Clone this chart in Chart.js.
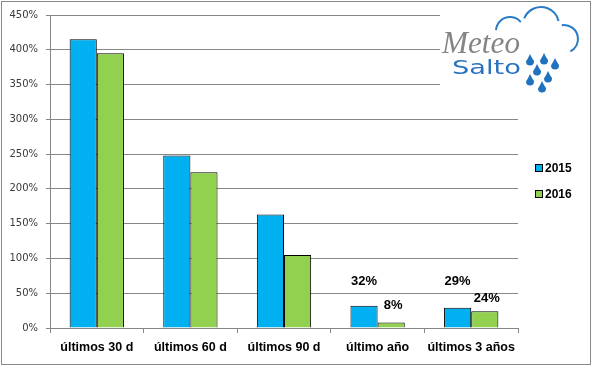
<!DOCTYPE html>
<html>
<head>
<meta charset="utf-8">
<script src="https://cdn.jsdelivr.net/npm/chart.js@4.4.1/dist/chart.umd.min.js"></script>
<style>
  html, body { margin: 0; padding: 0; background: #fff; }
  canvas { display: block; }
</style>
</head>
<body>
<canvas id="rainChart" width="596" height="366"></canvas>
<script>
// categories and values (percent)
const periods = ['últimos 30 d', 'últimos 60 d', 'últimos 90 d', 'último año', 'últimos 3 años'];
const values2015 = [415, 248, 163, 32, 29];
const values2016 = [395, 224, 105, 8, 24];
const yTicks = [0, 50, 100, 150, 200, 250, 300, 350, 400, 450];

const gridGray = '#878787';

// white background + outer frame
const frame = {
    id: 'frame',
    beforeDraw(chart) {
        const ctx = chart.ctx;
        ctx.save();
        ctx.fillStyle = '#fff';
        ctx.fillRect(0, 0, chart.width, chart.height);
        ctx.restore();
    },
    afterDraw(chart) {
        const ctx = chart.ctx;
        ctx.save();
        ctx.strokeStyle = '#8a8a8a';
        ctx.lineWidth = 1;
        ctx.strokeRect(1.5, 1.5, 589, 363);
        ctx.restore();
    }
};

// value labels over the last two groups
const valueLabels = {
    id: 'valueLabels',
    afterDatasetsDraw(chart, args, opts) {
        const ctx = chart.ctx;
        ctx.save();
        ctx.font = 'bold 13px "Liberation Sans", Arial, sans-serif';
        ctx.fillStyle = '#000';
        ctx.textAlign = 'center';
        ctx.textBaseline = 'middle';
        chart.data.datasets.forEach((ds, di) => {
            const meta = chart.getDatasetMeta(di);
            opts.indexes.forEach((idx, k) => {
                const bar = meta.data[idx];
                ctx.fillText(ds.data[idx] + '%', bar.x + (di === 1 ? 2 : 0), bar.y - opts.lift[di][k]);
            });
        });
        ctx.restore();
    }
};

// legend on the right
const sideLegend = {
    id: 'sideLegend',
    afterDraw(chart) {
        const ctx = chart.ctx;
        ctx.save();
        ctx.font = 'bold 12px "Liberation Sans", Arial, sans-serif';
        ctx.textBaseline = 'middle';
        chart.data.datasets.forEach((ds, i) => {
            const y = 168 + i * 26;
            ctx.fillStyle = ds.backgroundColor;
            ctx.fillRect(535.5, y - 3.5, 7, 7);
            ctx.strokeStyle = '#000';
            ctx.lineWidth = 1;
            ctx.strokeRect(535.5, y - 3.5, 7, 7);
            ctx.fillStyle = '#000';
            ctx.fillText(ds.label, 545, y + 1);
        });
        ctx.restore();
    }
};

// Meteo Salto logo, top right
const logo = {
    id: 'logo',
    afterDraw(chart) {
        const ctx = chart.ctx;
        ctx.save();
        ctx.fillStyle = '#fff';
        ctx.fillRect(440, 2, 149, 96);

        // cloud outline
        ctx.strokeStyle = '#2a7cc7';
        ctx.lineWidth = 2;
        ctx.beginPath();
        ctx.arc(510, 31, 14, Math.PI * 1.02, Math.PI * 1.78);
        ctx.stroke();
        ctx.beginPath();
        ctx.arc(541, 25, 18, Math.PI * 1.12, Math.PI * 1.93);
        ctx.stroke();
        ctx.beginPath();
        ctx.arc(564, 39, 14, Math.PI * 1.45, Math.PI * 2.35);
        ctx.stroke();

        // Meteo
        ctx.fillStyle = '#858585';
        ctx.font = 'italic 31px "Liberation Serif", "DejaVu Serif", serif';
        ctx.textBaseline = 'alphabetic';
        ctx.textAlign = 'left';
        let w = ctx.measureText('Meteo').width;
        ctx.translate(442, 53);
        ctx.scale(78 / w, 1);
        ctx.fillText('Meteo', 0, 0);
        ctx.setTransform(1, 0, 0, 1, 0, 0);

        // Salto
        ctx.fillStyle = '#2a72c0';
        ctx.font = '19px "DejaVu Sans", sans-serif';
        w = ctx.measureText('Salto').width;
        ctx.translate(452, 74);
        ctx.scale(69 / w, 1);
        ctx.fillText('Salto', 0, 0);
        ctx.setTransform(1, 0, 0, 1, 0, 0);

        // raindrops
        const drops = [[530, 60], [544, 59], [555, 64], [537, 70], [548, 77], [530, 80], [542, 87]];
        ctx.fillStyle = '#1f72c0';
        drops.forEach(([x, y]) => {
            ctx.beginPath();
            ctx.moveTo(x, y - 6);
            ctx.quadraticCurveTo(x + 1.5, y - 2.5, x + 4, y + 1);
            ctx.arc(x, y + 1.5, 4, 0, Math.PI);
            ctx.quadraticCurveTo(x - 1.5, y - 2.5, x, y - 6);
            ctx.fill();
        });
        ctx.restore();
    }
};

const ctx = document.getElementById('rainChart').getContext('2d');
new Chart(ctx, {
    type: 'bar',
    data: {
        labels: periods,
        datasets: [{
            label: '2015',
            data: values2015,
            backgroundColor: '#00b0f0',
            borderColor: '#000',
            borderWidth: 1
        }, {
            label: '2016',
            data: values2016,
            backgroundColor: '#92d050',
            borderColor: '#000',
            borderWidth: 1
        }]
    },
    options: {
        responsive: false,
        animation: false,
        layout: { padding: { top: 15, left: 0, right: 78, bottom: 0 } },
        datasets: {
            bar: { categoryPercentage: 0.58, barPercentage: 1 }
        },
        plugins: {
            legend: { display: false },
            tooltip: { enabled: false },
            valueLabels: { indexes: [3, 4], lift: [[24, 26], [17, 13]] }
        },
        scales: {
            x: {
                grid: { display: true, drawOnChartArea: false, color: gridGray, tickLength: 5, offset: true },
                border: { color: gridGray },
                ticks: {
                    color: '#000',
                    padding: 7,
                    maxRotation: 0,
                    autoSkip: false,
                    font: { family: '"Liberation Sans", Arial, sans-serif', size: 12.5, weight: 'bold' }
                },
                afterFit(scale) { scale.height = 38; }
            },
            y: {
                min: 0,
                max: 450,
                afterBuildTicks(scale) { scale.ticks = yTicks.map(v => ({ value: v })); },
                grid: { color: gridGray, tickLength: 4 },
                border: { color: gridGray },
                ticks: {
                    color: '#3a3a3a',
                    padding: 8,
                    font: { family: '"DejaVu Sans", sans-serif', size: 10 },
                    callback: v => v + '%'
                },
                afterFit(scale) { scale.width = 50; }
            }
        }
    },
    plugins: [frame, valueLabels, sideLegend, logo]
});
</script>
</body>
</html>
